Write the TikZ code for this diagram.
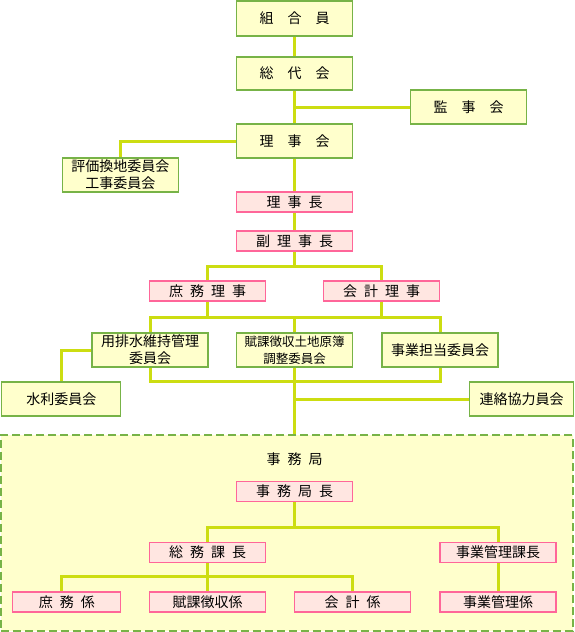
\documentclass[tikz,border=0pt]{standalone}
\usepackage{fontspec}
\setmainfont{Noto Sans CJK JP}
\usepackage{xcolor}
\definecolor{leaf}{HTML}{77B347}
\definecolor{cream}{HTML}{FFFFCC}
\definecolor{rose}{HTML}{FF6699}
\definecolor{blush}{HTML}{FFE6E1}
\definecolor{lime}{HTML}{CCDD11}
\newcommand{\sgap}{\hspace{0.5em}}
\newcommand{\wgap}{\hspace{1em}}

\begin{document}
\begin{tikzpicture}[x=1pt,y=-1pt,every node/.style={font=\fontsize{14}{17}\selectfont},
  gbox/.style={draw=leaf,fill=cream,line width=1.2pt,minimum width=116pt,minimum height=34pt,inner sep=0pt,align=center},
  pbox/.style={draw=rose,fill=blush,line width=1.2pt,minimum width=116pt,minimum height=20pt,inner sep=0pt},
  link/.style={draw=lime,line width=3pt}]
\useasboundingbox (0,0) rectangle (574,632);
% office frame
\node[draw=leaf,fill=cream,line width=2.2pt,dash pattern=on 8pt off 4pt,minimum width=571.8pt,minimum height=195.5pt] (bureau) at (287,533) {};
\node (bureauLabel) at (294.5,459) {事\sgap 務\sgap 局};
% members and boards
\node[gbox,minimum height=35pt] (kumiai) at (294.5,18.5) {組\wgap 合\wgap 員};
\node[gbox,minimum height=33pt] (sodai) at (294.5,73.5) {総\wgap 代\wgap 会};
\node[gbox] (kansa) at (468.7,107) {監\wgap 事\wgap 会};
\node[gbox] (rijikai) at (294.5,141) {理\wgap 事\wgap 会};
\node[gbox] (hyoka) at (120.3,175) {評価換地委員会\\工事委員会};
\node[pbox] (richo) at (294.5,202) {理\sgap 事\sgap 長};
\node[pbox] (fuku) at (294.5,241) {副\sgap 理\sgap 事\sgap 長};
\node[pbox] (shomuR) at (207.5,291) {庶\sgap 務\sgap 理\sgap 事};
\node[pbox] (kaikeiR) at (381.5,291) {会\sgap 計\sgap 理\sgap 事};
% committees
\node[gbox] (yohai) at (150,350) {用排水維持管理\\委員会};
\node[gbox,font=\fontsize{12.5}{17}\selectfont] (fuka) at (294.5,350) {賦課徴収土地原簿\\調整委員会};
\node[gbox] (jigyoI) at (440,350) {事業担当委員会};
\node[gbox,minimum width=119pt] (suiri) at (61.3,399) {水利委員会};
\node[gbox,minimum width=103.5pt] (renraku) at (521.5,399) {連絡協力員会};
% office staff
\node[pbox] (kyokucho) at (294.5,491.5) {事\sgap 務\sgap 局\sgap 長};
\node[pbox] (somuK) at (207.5,552.5) {総\sgap 務\sgap 課\sgap 長};
\node[pbox] (jigyoK) at (498,552.5) {事業管理課長};
\node[pbox,minimum width=108pt] (shomuG) at (66.8,602) {庶\sgap 務\sgap 係};
\node[pbox] (fukaG) at (207.5,602) {賦課徴収係};
\node[pbox] (kaikeiG) at (352.7,602) {会\sgap 計\sgap 係};
\node[pbox] (jigyoG) at (498,602) {事業管理係};
% connectors
\coordinate (b1) at (294.5,266);
\coordinate (b2) at (294.5,317);
\coordinate (b3) at (294.5,381);
\coordinate (b4) at (294.5,527);
\coordinate (b5) at (207.5,576);
\draw[link] (kumiai) -- (sodai);
\draw[link] (sodai) -- (rijikai);
\draw[link] (kansa.west) -- (kansa.west -| sodai);
\draw[link] (rijikai.west) -| (hyoka.north);
\draw[link] (rijikai) -- (richo);
\draw[link] (richo) -- (fuku);
\draw[link] (fuku.south) -- (b1);
\draw[link] (shomuR.north) |- (b1) -| (kaikeiR.north);
\draw[link] (shomuR.south) -- (shomuR.south |- b2);
\draw[link] (kaikeiR.south) -- (kaikeiR.south |- b2);
\draw[link] (yohai.north) |- (b2) -| (jigyoI.north);
\draw[link] (b2) -- (fuka.north);
\draw[link] (yohai.west) -| (suiri.north);
\draw[link] (yohai.south) |- (b3) -| (jigyoI.south);
\draw[link] (fuka.south) -- (fuka.south |- bureau.north);
\draw[link] (renraku.west) -- (renraku.west -| fuka);
\draw[link] (kyokucho.south) -- (b4);
\draw[link] (somuK.north) |- (b4) -| (jigyoK.north);
\draw[link] (jigyoK) -- (jigyoG);
\draw[link] (somuK) -- (fukaG);
\draw[link] (kaikeiG.north) |- (b5) -| ([xshift=-5.3pt]shomuG.north);
\end{tikzpicture}
\end{document}
